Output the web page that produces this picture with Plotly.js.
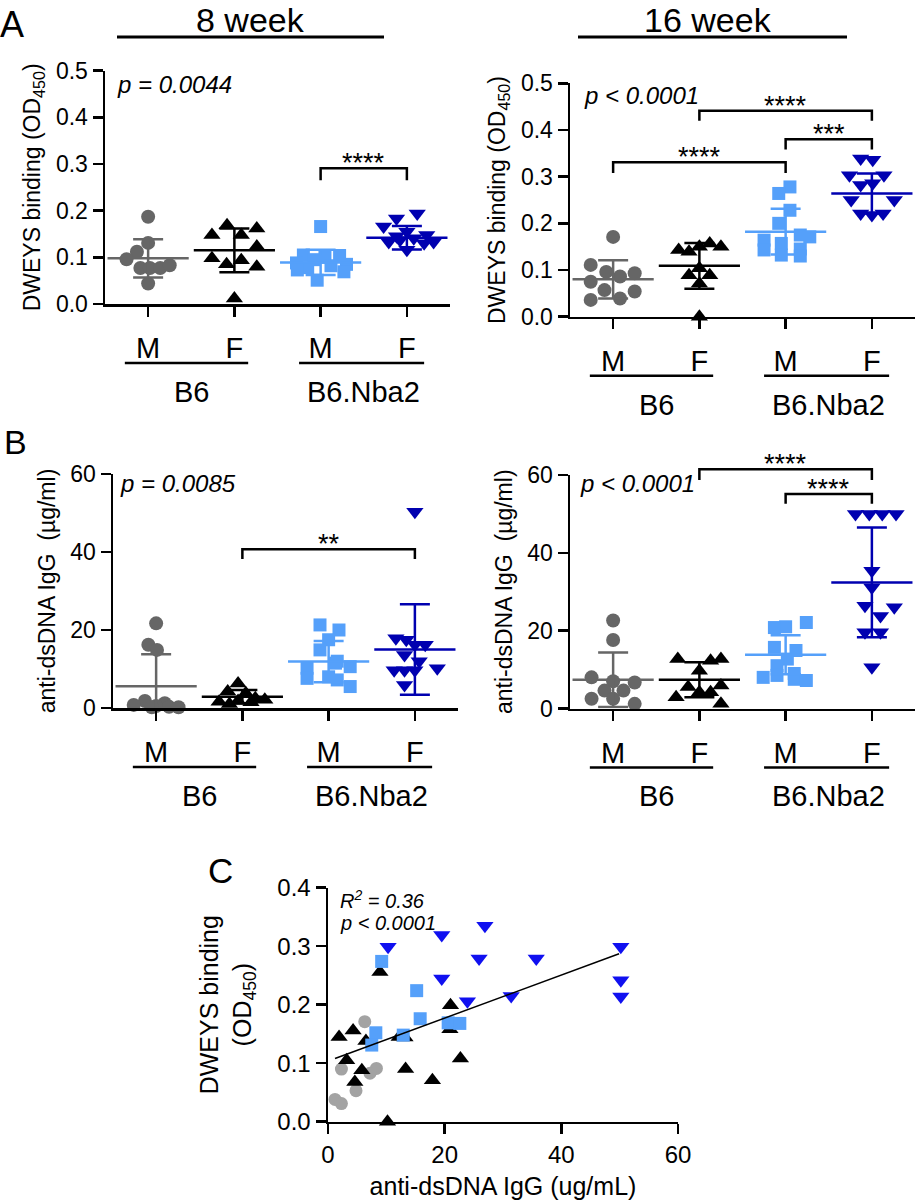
<!DOCTYPE html>
<html><head><meta charset="utf-8">
<script src="https://cdn.plot.ly/plotly-3.0.1.min.js"></script>
<style>body{margin:0;background:#fff}#chart{width:920px;height:1200px}</style>
</head><body><div id="chart"></div>
<script>
// ---------------- DATA ----------------
const sexLabels = ['M', 'F', 'M', 'F'];
const strainLabels = ['B6', 'B6.Nba2'];

// Panel A, 8 week: DWEYS binding (OD450)
const a8_B6_M     = [0.187, 0.131, 0.112, 0.096, 0.077, 0.077, 0.077, 0.083, 0.044];
const a8_B6_M_j   = [0, 0, -0.13, -0.25, -0.09, 0.02, 0.14, 0.25, 0];
const a8_B6_F     = [0.169, 0.148, 0.162, 0.148, 0.098, 0.085, 0.094, 0.123, 0.080, 0.012];
const a8_B6_F_j   = [-0.085, -0.26, 0.26, 0.08, -0.26, -0.09, 0.08, 0.26, 0.26, 0];
const a8_Nba_M    = [0.166, 0.105, 0.100, 0.104, 0.095, 0.088, 0.085, 0.082, 0.078, 0.073, 0.069, 0.051];
const a8_Nba_M_j  = [0, -0.2, 0.05, 0.22, -0.08, -0.28, 0.3, 0.12, -0.15, -0.27, 0.27, -0.04];
const a8_Nba_F    = [0.183, 0.194, 0.166, 0.155, 0.148, 0.133, 0.137, 0.141, 0.130, 0.133, 0.116, 0.145];
const a8_Nba_F_j  = [-0.12, 0.12, -0.27, 0, 0.23, -0.21, -0.08, 0.08, 0.2, 0.31, 0, -0.12];
const a8_mean = [0.098, 0.115, 0.089, 0.142];
const a8_sd   = [0.041, 0.047, 0.027, 0.025];

// Panel A, 16 week
const a16_B6_M    = [0.171, 0.111, 0.096, 0.086, 0.093, 0.075, 0.057, 0.054, 0.036, 0.039];
const a16_B6_M_j  = [0, -0.26, -0.08, 0.08, 0.25, -0.26, -0.1, 0.25, -0.26, 0.08];
const a16_B6_F    = [0.143, 0.139, 0.150, 0.157, 0.150, 0.089, 0.104, 0.089, 0.071, 0.0];
const a16_B6_F_j  = [-0.24, -0.12, 0, 0.12, 0.25, -0.12, 0, 0.12, 0, 0];
const a16_Nba_M   = [0.278, 0.264, 0.228, 0.200, 0.175, 0.171, 0.164, 0.157, 0.145, 0.143, 0.132, 0.130];
const a16_Nba_M_j = [0.05, -0.08, 0.05, -0.08, 0.17, 0.28, -0.25, -0.05, 0.17, -0.25, -0.05, 0.17];
const a16_Nba_F   = [0.339, 0.336, 0.303, 0.303, 0.282, 0.286, 0.250, 0.250, 0.221, 0.221, 0.218];
const a16_Nba_F_j = [-0.13, 0.01, -0.26, 0.14, -0.13, 0.01, -0.24, 0.26, -0.13, 0.13, 0];
const a16_mean = [0.080, 0.109, 0.182, 0.264];
const a16_sd   = [0.041, 0.049, 0.049, 0.043];

// Panel B, 8 week: anti-dsDNA IgG (ug/ml)
const b8_B6_M     = [21.7, 16.2, 14.9, 1.8, 1.2, 0.8, 0.5, 0.3, 0.2, 0.2];
const b8_B6_M_j   = [0, -0.09, 0.01, -0.13, 0.1, -0.26, 0, 0.15, 0.26, -0.05];
const b8_B6_F     = [6.3, 4.2, 3.8, 2.5, 2.1, 1.8, 1.6, 1.5, 1.0];
const b8_B6_F_j   = [-0.05, -0.17, 0.04, 0.15, 0.26, -0.05, -0.27, 0.1, -0.15];
const b8_Nba_M    = [21.3, 20.0, 17.5, 14.9, 12.0, 11.5, 10.6, 10.2, 8.0, 7.6, 7.2, 5.5];
const b8_Nba_M_j  = [-0.1, 0.12, 0, -0.1, 0.1, 0.08, 0.25, -0.25, 0, -0.25, 0.1, 0.25];
const b8_Nba_F    = [50.3, 17.9, 17.5, 16.2, 16.2, 13.6, 12.0, 9.7, 9.7, 9.7, 10.2, 5.9];
const b8_Nba_F_j  = [0, -0.22, -0.1, 0, 0.12, -0.12, 0.05, -0.24, -0.12, 0, 0.26, -0.12];
const b8_mean = [5.6, 2.9, 11.9, 15.0];
const b8_sd   = [8.2, 1.7, 5.3, 11.6];

// Panel B, 16 week
const b16_B6_M    = [22.6, 17.6, 8.0, 7.0, 6.7, 4.6, 4.6, 2.5, 2.5, 1.2];
const b16_B6_M_j  = [0, 0, -0.25, 0, 0.25, -0.1, 0.12, -0.25, 0, 0.25];
const b16_B6_F    = [12.7, 12.3, 12.7, 9.7, 5.5, 5.9, 4.2, 4.2, 2.9, 1.2];
const b16_B6_F_j  = [-0.25, 0.13, 0.25, 0, -0.13, 0.25, 0, 0.13, -0.27, 0.25];
const b16_Nba_M   = [22.1, 21.0, 20.8, 15.7, 14.9, 12.7, 11.0, 9.0, 8.0, 8.5, 7.5, 7.2];
const b16_Nba_M_j = [0.24, 0, -0.13, -0.13, 0.12, 0.02, -0.1, 0.1, -0.26, -0.1, 0.1, 0.24];
const b16_Nba_F   = [50, 50, 50, 50, 35.4, 31.1, 26.4, 26.0, 23.8, 19.6, 19.6, 10.6];
const b16_Nba_F_j = [-0.19, -0.03, 0.12, 0.28, 0, 0, -0.08, 0.26, 0.1, -0.08, 0.1, 0];
const b16_mean = [7.4, 7.4, 13.8, 32.4];
const b16_sd   = [7.0, 4.5, 5.0, 14.1];

// Panel C: correlation
const c_B6_M_x  = [6.3, 2.3, 8.3, 7.2, 4.8, 1.2, 2.3];
const c_B6_M_y  = [0.171, 0.090, 0.091, 0.083, 0.053, 0.038, 0.031];
const c_B6_F_x  = [8.9, 21.0, 20.9, 1.9, 4.3, 6.5, 12.2, 13.2, 3.2, 5.8, 4.6, 13.3, 22.7, 17.9, 10.2];
const c_B6_F_y  = [0.256, 0.199, 0.158, 0.145, 0.156, 0.138, 0.145, 0.144, 0.105, 0.088, 0.068, 0.090, 0.108, 0.071, 0.0];
const c_Nba_M_x = [9.2, 15.2, 15.8, 8.2, 12.9, 7.5, 20.6, 22.6];
const c_Nba_M_y = [0.274, 0.224, 0.176, 0.152, 0.148, 0.131, 0.169, 0.168];
const c_Nba_F_x = [10.3, 19.5, 26.9, 19.5, 25.9, 35.7, 50.2, 50.2, 50.2, 31.4, 23.9];
const c_Nba_F_y = [0.299, 0.319, 0.335, 0.245, 0.279, 0.279, 0.299, 0.242, 0.214, 0.215, 0.206];
const c_fit_x = [1.2, 49.9];
const c_fit_y = [0.108, 0.287];

// ---------------- LAYOUT HELPERS ----------------
const W = 920, H = 1200;
const FONT = 'Liberation Sans, Arial, Helvetica, sans-serif';
const styles = [
  {color: '#666666', symbol: 'circle', size: 14},
  {color: '#000000', symbol: 'triangle-up', size: 15},
  {color: '#55a0fa', symbol: 'square', size: 13},
  {color: '#0000b0', symbol: 'triangle-down', size: 15}
];
const geo = {
  A8:  {x0:105, x1:450, y0:70.7,  y1:304,   xr:[-0.5,3.5], yr:[0,0.5], xa:'x',  ya:'y'},
  A16: {x0:570, x1:915, y0:83.3,  y1:316.7, xr:[-0.5,3.5], yr:[0,0.5], xa:'x2', ya:'y2'},
  B8:  {x0:113, x1:458, y0:474,   y1:708,   xr:[-0.5,3.5], yr:[0,60],  xa:'x3', ya:'y3'},
  B16: {x0:570, x1:915, y0:475,   y1:708.5, xr:[-0.5,3.5], yr:[0,60],  xa:'x4', ya:'y4'},
  C:   {x0:328, x1:678, y0:887.7, y1:1121.7,xr:[0,60],     yr:[0,0.4], xa:'x5', ya:'y5'}
};
// data value -> pixel (same linear map as the axes)
function vx(g, v) { return g.x0 + (v - g.xr[0]) / (g.xr[1] - g.xr[0]) * (g.x1 - g.x0); }
function vy(g, v) { return g.y1 - (v - g.yr[0]) / (g.yr[1] - g.yr[0]) * (g.y1 - g.y0); }
function PX(p) { return p / W; }
function PY(p) { return 1 - p / H; }

const traces = [];
const shapes = [];
const annotations = [];

const panels = [
  {g: geo.A8,  groups: [[a8_B6_M,a8_B6_M_j],[a8_B6_F,a8_B6_F_j],[a8_Nba_M,a8_Nba_M_j],[a8_Nba_F,a8_Nba_F_j]], mean: a8_mean, sd: a8_sd},
  {g: geo.A16, groups: [[a16_B6_M,a16_B6_M_j],[a16_B6_F,a16_B6_F_j],[a16_Nba_M,a16_Nba_M_j],[a16_Nba_F,a16_Nba_F_j]], mean: a16_mean, sd: a16_sd},
  {g: geo.B8,  groups: [[b8_B6_M,b8_B6_M_j],[b8_B6_F,b8_B6_F_j],[b8_Nba_M,b8_Nba_M_j],[b8_Nba_F,b8_Nba_F_j]], mean: b8_mean, sd: b8_sd},
  {g: geo.B16, groups: [[b16_B6_M,b16_B6_M_j],[b16_B6_F,b16_B6_F_j],[b16_Nba_M,b16_Nba_M_j],[b16_Nba_F,b16_Nba_F_j]], mean: b16_mean, sd: b16_sd}
];

panels.forEach(p => {
  p.groups.forEach((gr, gi) => {
    const st = styles[gi];
    traces.push({
      type: 'scatter', mode: 'markers', xaxis: p.g.xa, yaxis: p.g.ya,
      x: gr[0].map((v, i) => gi + gr[1][i]), y: gr[0],
      marker: {color: st.color, symbol: st.symbol, size: st.size, line: {width: 0}},
      cliponaxis: false, showlegend: false, hoverinfo: 'skip'
    });
  });
  p.groups.forEach((gr, gi) => {
    const st = styles[gi];
    traces.push({
      type: 'scatter', mode: 'markers', xaxis: p.g.xa, yaxis: p.g.ya,
      x: [gi], y: [p.mean[gi]],
      marker: {symbol: 'line-ew', size: 58, color: st.color, line: {color: st.color, width: 2.5}},
      error_y: {type: 'data', array: [p.sd[gi]], visible: true, width: 15, thickness: 2.5, color: st.color},
      cliponaxis: true, showlegend: false, hoverinfo: 'skip'
    });
  });
  // group underlines and strain labels
  const axisY = p.g.y1;
  [[0, 1, -0.27, 0.16], [2, 3, -0.25, 0.2]].forEach((seg, si) => {
    shapes.push({type: 'line', xref: 'paper', yref: 'paper',
      x0: PX(vx(p.g, seg[0] + seg[2])), x1: PX(vx(p.g, seg[1] + seg[3])),
      y0: PY(axisY + 59), y1: PY(axisY + 59), line: {color: '#000', width: 2.5}});
    annotations.push({xref: 'paper', yref: 'paper', x: PX(vx(p.g, (seg[0] + seg[1]) / 2)), y: PY(axisY + 88),
      text: strainLabels[si], showarrow: false, xanchor: 'center', yanchor: 'middle',
      font: {size: 29, color: '#000', family: FONT}});
  });
});

// Significance brackets: [panel, cat1, cat2, top value, leg value, label]
const brackets = [
  [geo.A8, 2, 3, 0.291, 0.265, '****'],
  [geo.A16, 0, 2, 0.331, 0.308, '****'],
  [geo.A16, 1, 3, 0.441, 0.420, '****'],
  [geo.A16, 2, 3, 0.380, 0.358, '***'],
  [geo.B8, 1, 3, 40.7, 38.2, '**'],
  [geo.B16, 1, 3, 61.5, 58.7, '****'],
  [geo.B16, 2, 3, 55.1, 52.6, '****']
];
brackets.forEach(b => {
  const g = b[0];
  const xa = PX(vx(g, b[1])), xb = PX(vx(g, b[2]));
  const yt = PY(vy(g, b[3])), yl = PY(vy(g, b[4]));
  shapes.push({type: 'path', xref: 'paper', yref: 'paper',
    path: `M ${xa} ${yl} L ${xa} ${yt} L ${xb} ${yt} L ${xb} ${yl}`,
    line: {color: '#000', width: 2.5}});
  annotations.push({xref: 'paper', yref: 'paper', x: (xa + xb) / 2, y: PY(vy(g, b[3]) - 5),
    text: b[5], showarrow: false, xanchor: 'center', yanchor: 'middle',
    font: {size: 27, color: '#000', family: FONT}});
});

// Panel C traces
const cStyles = [
  {x: c_B6_M_x, y: c_B6_M_y, color: '#a3a3a3', symbol: 'circle', size: 13},
  {x: c_B6_F_x, y: c_B6_F_y, color: '#000000', symbol: 'triangle-up', size: 15},
  {x: c_Nba_M_x, y: c_Nba_M_y, color: '#55a0fa', symbol: 'square', size: 13},
  {x: c_Nba_F_x, y: c_Nba_F_y, color: '#1010f0', symbol: 'triangle-down', size: 15}
];
cStyles.forEach(s => traces.push({
  type: 'scatter', mode: 'markers', xaxis: 'x5', yaxis: 'y5', x: s.x, y: s.y,
  marker: {color: s.color, symbol: s.symbol, size: s.size, line: {width: 0}},
  cliponaxis: false, showlegend: false, hoverinfo: 'skip'
}));
traces.push({type: 'scatter', mode: 'lines', xaxis: 'x5', yaxis: 'y5', x: c_fit_x, y: c_fit_y,
  line: {color: '#000', width: 1.5}, showlegend: false, hoverinfo: 'skip'});

// Headers
[[250, '8 week', 117, 384], [708, '16 week', 578, 847]].forEach(h => {
  annotations.push({xref: 'paper', yref: 'paper', x: PX(h[0]), y: 1, text: h[1], showarrow: false,
    xanchor: 'center', yanchor: 'top', borderpad: 0, font: {size: 34, color: '#000', family: FONT}});
  shapes.push({type: 'line', xref: 'paper', yref: 'paper', x0: PX(h[2]), x1: PX(h[3]), y0: PY(37), y1: PY(37),
    line: {color: '#000', width: 3}});
});
// Panel letters
[['A', 12, 24, 36], ['B', 15, 442, 34], ['C', 220, 870, 35]].forEach(l => annotations.push({
  xref: 'paper', yref: 'paper', x: PX(l[1]), y: PY(l[2]), text: l[0], showarrow: false,
  xanchor: 'center', yanchor: 'middle', font: {size: l[3], color: '#000', family: FONT}}));
// p values
[['p = 0.0044', 115, 84], ['p < 0.0001', 582, 96], ['p = 0.0085', 118, 483], ['p < 0.0001', 578, 483]].forEach(t => annotations.push({
  xref: 'paper', yref: 'paper', x: PX(t[1]), y: PY(t[2]), text: '<i>' + t[0] + '</i>', showarrow: false,
  xanchor: 'left', yanchor: 'middle', font: {size: 24, color: '#000', family: FONT}}));
[['R<sup>2</sup> = 0.36', 338, 899], ['p < 0.0001', 338, 923]].forEach(t => annotations.push({
  xref: 'paper', yref: 'paper', x: PX(t[1]), y: PY(t[2]), text: '<i>' + t[0] + '</i>', showarrow: false,
  xanchor: 'left', yanchor: 'middle', font: {size: 20, color: '#000', family: FONT}}));

// Axes
function dom(a, b, L) { return [a / L, b / L]; }
const baseAx = {showline: true, linecolor: '#000', linewidth: 2.5, ticks: 'outside', ticklen: 10, tickwidth: 2.5,
  tickcolor: '#000', showgrid: false, zeroline: false, fixedrange: true, tickfont: {size: 23, color: '#000', family: FONT}};
const layout = {width: W, height: H, margin: {l: 0, r: 0, t: 0, b: 0}, paper_bgcolor: '#fff', plot_bgcolor: 'rgba(0,0,0,0)',
  font: {family: FONT, color: '#000'}, showlegend: false, shapes: shapes, annotations: annotations};
const catKeys = [['A8', '', 'DWEYS binding (OD<sub>450</sub>)', [0,0.1,0.2,0.3,0.4,0.5], '.1f'],
                 ['A16', '2', 'DWEYS binding (OD<sub>450</sub>)', [0,0.1,0.2,0.3,0.4,0.5], '.1f'],
                 ['B8', '3', 'anti-dsDNA IgG\u00a0\u00a0(µg/ml)', [0,20,40,60], 'd'],
                 ['B16', '4', 'anti-dsDNA IgG\u00a0\u00a0(µg/ml)', [0,20,40,60], 'd']];
catKeys.forEach(k => {
  const g = geo[k[0]];
  layout['xaxis' + k[1]] = Object.assign({}, baseAx, {
    domain: dom(g.x0, g.x1, W), range: g.xr, anchor: 'y' + k[1],
    tickvals: [0, 1, 2, 3], ticktext: sexLabels, tickfont: {size: 29, color: '#000', family: FONT}, ticklabelstandoff: 7});
  layout['yaxis' + k[1]] = Object.assign({}, baseAx, {
    domain: [1 - g.y1 / H, 1 - g.y0 / H], range: g.yr, anchor: 'x' + k[1],
    tickvals: k[3], tickformat: k[4],
    title: {text: k[2], font: {size: 23, color: '#000', family: FONT}, standoff: 9}});
});
layout.xaxis5 = Object.assign({}, baseAx, {domain: dom(geo.C.x0, geo.C.x1, W), range: geo.C.xr, anchor: 'y5',
  tickvals: [0, 20, 40, 60], tickfont: {size: 24, color: '#000', family: FONT},
  title: {text: 'anti-dsDNA IgG (ug/mL)', font: {size: 25, color: '#000', family: FONT}, standoff: 12}});
layout.yaxis5 = Object.assign({}, baseAx, {domain: [1 - geo.C.y1 / H, 1 - geo.C.y0 / H], range: geo.C.yr, anchor: 'x5',
  tickvals: [0, 0.1, 0.2, 0.3, 0.4], tickformat: '.1f', tickfont: {size: 24, color: '#000', family: FONT},
  title: {text: 'DWEYS binding<br>(OD<sub>450</sub>)', font: {size: 25, color: '#000', family: FONT}, standoff: 19}});

Plotly.newPlot('chart', traces, layout, {staticPlot: true, displayModeBar: false});
</script>
</body></html>
